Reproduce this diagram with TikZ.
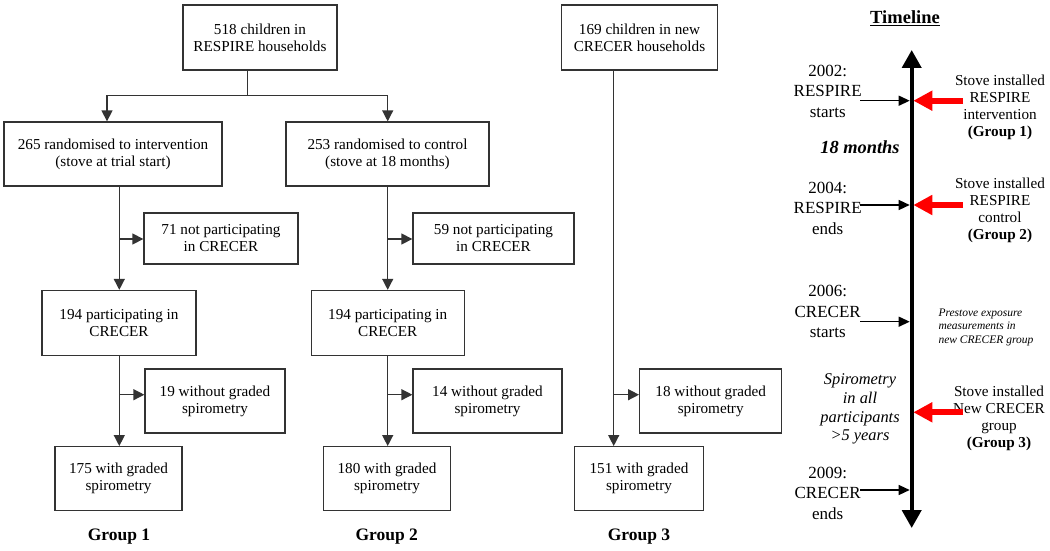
\documentclass[tikz,border=0pt]{standalone}
\usepackage{fontspec}
\setmainfont{Liberation Serif}
\usetikzlibrary{arrows.meta,positioning,calc}

\begin{document}
\begin{tikzpicture}[x=1pt,y=-1pt,
  box/.style={draw=black!80,line width=1.3pt,align=center,inner sep=0pt,font=\fontsize{15.2}{17}\selectfont},
  flow/.style={draw=black!80,line width=1.3pt,-{Triangle[length=11pt,width=11pt]}},
  plain/.style={draw=black!80,line width=1.3pt},
  grp/.style={font=\fontsize{17.5}{20}\selectfont\bfseries},
  yearlab/.style={align=center,font=\fontsize{17}{20.5}\selectfont},
  stovelab/.style={align=center,font=\fontsize{15.2}{17}\selectfont},
  yeararrow/.style={line width=1.3pt,shorten >=2pt,-{Triangle[length=11pt,width=10pt]}},
  redarrow/.style={red,line width=6pt,shorten >=1.6pt,-{Triangle[length=19pt,width=19pt]}}]
\useasboundingbox (0,0) rectangle (1050,551);

% trunks of the three groups
\coordinate (g1) at (119.3,0);
\coordinate (g2) at (387.7,0);
\coordinate (g3) at (613.7,0);
\coordinate (a1) at (107,0);
\coordinate (split) at (247.3,95.7);
\coordinate (side1) at (0,239);
\coordinate (side2) at (0,394.7);

% flowchart boxes
\node[box,minimum width=154,minimum height=65] (c518) at (260,37.5) {518 children in\\RESPIRE households};
\node[box,minimum width=156,minimum height=65] (c169) at (639.5,37.5) {169 children in new\\CRECER households};
\node[box,minimum width=218,minimum height=64] (r265) at (113,154) {265 randomised to intervention\\(stove at trial start)};
\node[box,minimum width=203,minimum height=64] (r253) at (387.5,154) {253 randomised to control\\(stove at 18 months)};
\node[box,minimum width=154,minimum height=51] (n71) at (221,238.5) {71 not participating\\in CRECER};
\node[box,minimum width=161,minimum height=51] (n59) at (493.5,238.5) {59 not participating\\in CRECER};
\node[box,minimum width=154,minimum height=65] (p1) at (119,323) {194 participating in\\CRECER};
\node[box,minimum width=153,minimum height=65] (p2) at (387.7,323) {194 participating in\\CRECER};
\node[box,minimum width=140,minimum height=64] (w19) at (215,401) {19 without graded\\spirometry};
\node[box,minimum width=149,minimum height=64] (w14) at (487.5,401) {14 without graded\\spirometry};
\node[box,minimum width=142,minimum height=64] (w18) at (710.7,401) {18 without graded\\spirometry};
\node[box,minimum width=127,minimum height=64] (s175) at (118.5,478.7) {175 with graded\\spirometry};
\node[box,minimum width=127,minimum height=64] (s180) at (387,478.7) {180 with graded\\spirometry};
\node[box,minimum width=129,minimum height=64] (s151) at (639,478.7) {151 with graded\\spirometry};

\node[grp] (grp1) at (119,536.7) {Group 1};
\node[grp] (grp2) at (386.7,536.7) {Group 2};
\node[grp] (grp3) at (639,536.7) {Group 3};

% connectors
\draw[plain] (split |- c518.south) -- (split);
\draw[flow] (split) -| (a1 |- r265.north);
\draw[flow] (split) -| (g2 |- r253.north);

\draw[flow] (g1 |- r265.south) -- (g1 |- p1.north);
\draw[flow] (g1 |- side1) -- (n71.west |- side1);
\draw[flow] (g1 |- p1.south) -- (g1 |- s175.north);
\draw[flow] (g1 |- side2) -- (w19.west |- side2);

\draw[flow] (g2 |- r253.south) -- (g2 |- p2.north);
\draw[flow] (g2 |- side1) -- (n59.west |- side1);
\draw[flow] (g2 |- p2.south) -- (g2 |- s180.north);
\draw[flow] (g2 |- side2) -- (w14.west |- side2);

\draw[flow] (g3 |- c169.south) -- (g3 |- s151.north);
\draw[flow] (g3 |- side2) -- (w18.west |- side2);

% timeline
\node[font=\fontsize{18.5}{21}\selectfont\bfseries] (tl) at (905,18) {\underline{Timeline}};
\coordinate (axtop) at (911.7,50);
\coordinate (axbot) at (911.7,528);
\draw[line width=4pt,{Triangle[length=18pt,width=19pt]}-{Triangle[length=18pt,width=19pt]}] (axbot) -- (axtop);

\node[yearlab] (y2002) at (827.7,91) {2002:\\RESPIRE\\starts};
\node[yearlab] (y2004) at (827.7,208) {2004:\\RESPIRE\\ends};
\node[yearlab] (y2006) at (827.7,311.7) {2006:\\CRECER\\starts};
\node[yearlab] (y2009) at (827.7,493) {2009:\\CRECER\\ends};
\node[font=\fontsize{18.4}{21}\selectfont\bfseries\itshape] (months) at (860,147.7) {18 months};
\node[align=center,font=\fontsize{16.4}{18.7}\selectfont\itshape] (spiro) at (860,409) {Spirometry\\in all\\participants\\>5 years};
\node[anchor=west,align=left,font=\fontsize{11.5}{13.5}\selectfont\itshape] (prestove) at (935,327) {Prestove exposure\\measurements in\\new CRECER group};

\coordinate (e1) at (860,100.7);
\coordinate (e2) at (860,205);
\coordinate (e3) at (860,321.7);
\coordinate (e4) at (860,490);
\draw[yeararrow] (e1) -- (e1 -| axtop);
\draw[yeararrow] (e2) -- (e2 -| axtop);
\draw[yeararrow] (e3) -- (e3 -| axtop);
\draw[yeararrow] (e4) -- (e4 -| axtop);

\node[stovelab] (st1) at (1000,107.2) {Stove installed\\RESPIRE\\intervention\\\textbf{(Group 1)}};
\node[stovelab] (st2) at (1000,210.5) {Stove installed\\RESPIRE\\control\\\textbf{(Group 2)}};
\node[stovelab] (st3) at (999,418.8) {Stove installed\\New CRECER\\group\\\textbf{(Group 3)}};

\coordinate (r1) at (963,100.7);
\coordinate (r2) at (963,205);
\coordinate (r3) at (963,412.3);
\draw[redarrow] (r1) -- (r1 -| axtop);
\draw[redarrow] (r2) -- (r2 -| axtop);
\draw[redarrow] (r3) -- (r3 -| axtop);
\end{tikzpicture}
\end{document}
